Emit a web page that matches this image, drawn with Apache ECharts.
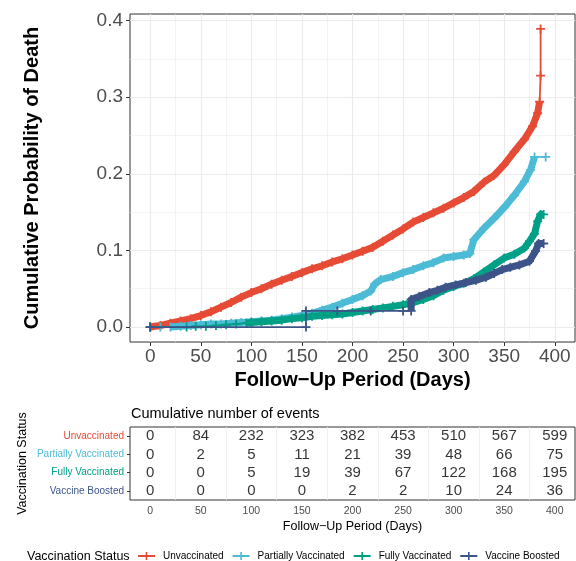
<!DOCTYPE html>
<html>
<head>
<meta charset="utf-8">
<script src="https://cdn.jsdelivr.net/npm/echarts@6/dist/echarts.min.js"></script>
<style>
  html, body { margin: 0; padding: 0; background: #fff; }
  #chart { width: 576px; height: 561px; }
</style>
</head>
<body>
<div id="chart"></div>
<script>
const groups = ["Unvaccinated", "Partially Vaccinated", "Fully Vaccinated", "Vaccine Boosted"];
const colors = ["#E64B35", "#4DBBD5", "#00A087", "#3C5488"];

// cumulative probability of death (day, value)
const unvaxDays = [0, 10, 20, 30, 40, 50, 60, 70, 80, 90, 100, 110, 120, 130, 140, 150, 160, 170, 180, 190, 200, 210, 220, 230, 240, 250, 260, 270, 280, 290, 300, 310, 320, 330, 340, 350, 360, 370, 378, 383, 385, 386, 386];
const unvaxProb = [0, 0.002, 0.005, 0.008, 0.011, 0.015, 0.020, 0.026, 0.032, 0.039, 0.045, 0.050, 0.056, 0.061, 0.066, 0.071, 0.076, 0.080, 0.085, 0.089, 0.094, 0.099, 0.104, 0.112, 0.120, 0.128, 0.137, 0.143, 0.149, 0.155, 0.162, 0.169, 0.177, 0.189, 0.198, 0.212, 0.229, 0.245, 0.262, 0.279, 0.294, 0.328, 0.389];

const partialDays = [0, 10, 20, 30, 40, 50, 60, 70, 80, 90, 100, 110, 120, 130, 140, 150, 160, 170, 180, 190, 200, 210, 218, 222, 228, 240, 250, 260, 270, 280, 290, 300, 310, 316, 320, 330, 340, 350, 360, 370, 376, 380, 391];
const partialProb = [0, 0, 0, 0.001, 0.002, 0.003, 0.004, 0.004, 0.005, 0.006, 0.007, 0.008, 0.009, 0.011, 0.013, 0.015, 0.018, 0.022, 0.026, 0.031, 0.036, 0.041, 0.047, 0.056, 0.062, 0.066, 0.071, 0.075, 0.080, 0.084, 0.090, 0.092, 0.094, 0.096, 0.114, 0.129, 0.142, 0.156, 0.172, 0.190, 0.205, 0.222, 0.222];

const fullDays = [0, 36, 45, 55, 65, 75, 85, 95, 100, 110, 120, 130, 140, 150, 160, 170, 180, 190, 200, 210, 220, 230, 240, 250, 260, 270, 280, 290, 300, 310, 320, 330, 340, 350, 360, 370, 375, 380, 383, 386, 389];
const fullProb = [0, 0, 0.001, 0.001, 0.002, 0.003, 0.004, 0.005, 0.006, 0.007, 0.008, 0.009, 0.011, 0.012, 0.014, 0.015, 0.016, 0.017, 0.019, 0.021, 0.023, 0.025, 0.027, 0.029, 0.032, 0.036, 0.041, 0.048, 0.053, 0.057, 0.063, 0.072, 0.081, 0.090, 0.095, 0.103, 0.112, 0.122, 0.138, 0.147, 0.147];

const boostedDays = [0, 154, 154, 185, 218, 250, 258, 258, 266, 276, 284, 292, 302, 312, 322, 332, 340, 348, 356, 365, 375, 381, 384, 389];
const boostedProb = [0, 0, 0.021, 0.021, 0.021, 0.021, 0.021, 0.036, 0.040, 0.045, 0.048, 0.052, 0.055, 0.058, 0.061, 0.065, 0.070, 0.075, 0.078, 0.081, 0.086, 0.099, 0.109, 0.109];

// stretch of days where the censor marks merge into a solid band
const bandRanges = [[0, 385], [15, 380], [95, 389], [258, 389]];

// cumulative number of events table
const riskDays = [0, 50, 100, 150, 200, 250, 300, 350, 400];
const riskUnvax = [0, 84, 232, 323, 382, 453, 510, 567, 599];
const riskPartial = [0, 2, 5, 11, 21, 39, 48, 66, 75];
const riskFull = [0, 0, 5, 19, 39, 67, 122, 168, 195];
const riskBoosted = [0, 0, 0, 0, 2, 2, 10, 24, 36];

const xTicks = [0, 50, 100, 150, 200, 250, 300, 350, 400];
const xMinorTicks = [25, 75, 125, 175, 225, 275, 325, 375];
const yTicks = [0, 0.1, 0.2, 0.3, 0.4];
const yMinorTicks = [0.05, 0.15, 0.25, 0.35];

const curveDays = [unvaxDays, partialDays, fullDays, boostedDays];
const curveProb = [unvaxProb, partialProb, fullProb, boostedProb];
const riskCounts = [riskUnvax, riskPartial, riskFull, riskBoosted];

const font = "Liberation Sans";
const plus = "path://M4,0H6V4H10V6H6V10H4V6H0V4H4Z";
const gridColor = "#EBEBEB";
const frameColor = "#333333";

const chart = echarts.init(document.getElementById("chart"), null, { renderer: "canvas" });

let series = [];
groups.forEach(function (name, g) {
  const pts = curveDays[g].map(function (d, i) {
    return [d, curveProb[g][i]];
  });
  series.push({
    name: name,
    type: "line",
    xAxisIndex: 0,
    yAxisIndex: 0,
    data: pts,
    symbol: plus,
    symbolSize: 9,
    showSymbol: true,
    lineStyle: { width: 1.8, color: colors[g] },
    itemStyle: { color: colors[g] },
    z: 3 + g * 2,
    silent: true,
  });
  series.push({
    name: name + " band",
    type: "line",
    xAxisIndex: 0,
    yAxisIndex: 0,
    data: pts.filter(function (p) {
      return p[0] >= bandRanges[g][0] && p[0] <= bandRanges[g][1];
    }),
    symbol: "none",
    lineStyle: { width: 7, color: colors[g], join: "round" },
    z: 2 + g * 2,
    silent: true,
  });
});

// numbers in the risk table
groups.forEach(function (name, g) {
  series.push({
    type: "scatter",
    xAxisIndex: 2,
    yAxisIndex: 2,
    symbolSize: 0,
    data: riskDays.map(function (d, i) {
      return [d, name, riskCounts[g][i]];
    }),
    label: {
      show: true,
      position: "inside",
      formatter: function (p) {
        return p.value[2];
      },
      color: "#000",
      fontSize: 15,
      fontFamily: font,
    },
    silent: true,
  });
});

const option = {
  animation: false,
  textStyle: { fontFamily: font },
  title: [
    {
      text: "Cumulative number of events",
      left: 126,
      top: 401,
      textStyle: { fontSize: 14.5, fontWeight: "normal", color: "#000", fontFamily: font },
    },
    {
      text: "Vaccination Status",
      left: 22,
      top: 545,
      textStyle: { fontSize: 12.5, fontWeight: "normal", color: "#000", fontFamily: font },
    },
  ],
  legend: {
    data: groups,
    left: 132,
    top: 546,
    itemWidth: 17,
    itemHeight: 10,
    itemGap: 8,
    textStyle: { fontSize: 10, color: "#000", fontFamily: font, padding: [0, 0, 0, 3] },
  },
  grid: [
    { left: 130, width: 445, top: 14, height: 328, show: true, borderColor: frameColor, borderWidth: 1, backgroundColor: "#fff" },
    { left: 130, width: 445, top: 427, height: 73, show: true, borderColor: frameColor, borderWidth: 1, backgroundColor: "#fff" },
  ],
  xAxis: [
    {
      type: "value",
      gridIndex: 0,
      min: -20,
      max: 420,
      name: "Follow\u2212Up Period (Days)",
      nameLocation: "middle",
      nameGap: 28,
      nameTextStyle: { fontSize: 20, fontWeight: "bold", color: "#000", fontFamily: font },
      axisLine: { show: false, onZero: false },
      axisTick: { show: true, length: 4, lineStyle: { color: frameColor }, customValues: xTicks },
      axisLabel: { color: "#4D4D4D", fontSize: 19, margin: 5, fontFamily: font, customValues: xTicks },
      splitLine: { show: true, lineStyle: { color: gridColor, width: 1.1 } },
    },
    {
      type: "value",
      gridIndex: 0,
      min: -20,
      max: 420,
      axisLine: { show: false, onZero: false },
      axisTick: { show: false, customValues: xMinorTicks },
      axisLabel: { show: false, customValues: xMinorTicks },
      splitLine: { show: true, lineStyle: { color: gridColor, width: 0.6 } },
    },
    {
      type: "value",
      gridIndex: 1,
      min: -20,
      max: 420,
      name: "Follow\u2212Up Period (Days)",
      nameLocation: "middle",
      nameGap: 20,
      nameTextStyle: { fontSize: 12.5, color: "#000", fontFamily: font },
      axisLine: { show: false, onZero: false },
      axisTick: { show: false, customValues: xTicks },
      axisLabel: { color: "#4D4D4D", fontSize: 10.5, margin: 6, fontFamily: font, customValues: xTicks },
      splitLine: { show: false },
    },
    {
      type: "value",
      gridIndex: 1,
      min: -20,
      max: 420,
      axisLine: { show: false, onZero: false },
      axisTick: { show: false, customValues: xMinorTicks },
      axisLabel: { show: false, customValues: xMinorTicks },
      splitLine: { show: true, lineStyle: { color: gridColor, width: 0.8 } },
    },
  ],
  yAxis: [
    {
      type: "value",
      gridIndex: 0,
      min: -0.0195,
      max: 0.4085,
      name: "Cumulative Probability of Death",
      nameLocation: "middle",
      nameRotate: 90,
      nameGap: 88,
      nameTextStyle: { fontSize: 20, fontWeight: "bold", color: "#000", fontFamily: font },
      axisLine: { show: false, onZero: false },
      axisTick: { show: true, length: 4, lineStyle: { color: frameColor }, customValues: yTicks },
      axisLabel: {
        color: "#4D4D4D",
        fontSize: 19,
        margin: 7,
        fontFamily: font,
        customValues: yTicks,
        formatter: function (v) {
          return v.toFixed(1);
        },
      },
      splitLine: { show: true, lineStyle: { color: gridColor, width: 1.1 } },
    },
    {
      type: "value",
      gridIndex: 0,
      min: -0.0195,
      max: 0.4085,
      position: "left",
      axisLine: { show: false, onZero: false },
      axisTick: { show: false, customValues: yMinorTicks },
      axisLabel: { show: false, customValues: yMinorTicks },
      splitLine: { show: true, lineStyle: { color: gridColor, width: 0.6 } },
    },
    {
      type: "category",
      gridIndex: 1,
      data: groups,
      inverse: true,
      name: "Vaccination Status",
      nameLocation: "middle",
      nameRotate: 90,
      nameGap: 101,
      nameMoveOverlap: false,
      nameTextStyle: { fontSize: 12.5, color: "#000", fontFamily: font },
      axisLine: { show: false, onZero: false },
      axisTick: { show: true, alignWithLabel: true, length: 3, lineStyle: { color: frameColor } },
      axisLabel: {
        fontSize: 10,
        margin: 6,
        fontFamily: font,
        color: function (value, index) {
          return colors[groups.indexOf(value)];
        },
      },
      splitLine: { show: false },
    },
  ],
  series: series,
};

chart.setOption(option);
</script>
</body>
</html>
